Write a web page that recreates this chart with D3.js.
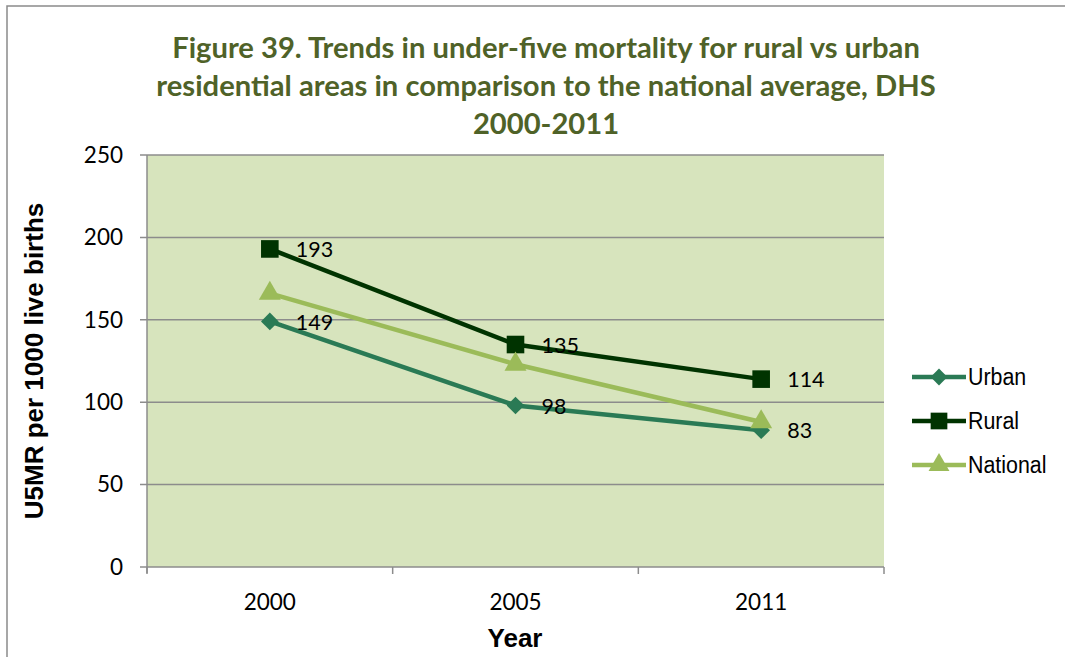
<!DOCTYPE html>
<html><head><meta charset="utf-8">
<script src="https://cdn.jsdelivr.net/npm/d3@7"></script>
<style>body{margin:0;background:#fff}svg{display:block}</style>
</head><body>
<script>
const years = ["2000", "2005", "2011"];
const urban = [149, 98, 83];
const rural = [193, 135, 114];
const national = [166, 123, 88];
const yTicks = [0, 50, 100, 150, 200, 250];
const titleLines = ["Figure 39. Trends in under-five mortality for rural vs urban",
  "residential areas in comparison to the national average, DHS", "2000-2011"];

const W = 1065, H = 657;
const svg = d3.select("body").append("svg").attr("width", W).attr("height", H);
svg.append("rect").attr("x", 7).attr("y", 6).attr("width", 1070).attr("height", 700)
  .attr("fill", "#fff").attr("stroke", "#8a8a8a").attr("stroke-width", 1.5);

const plot = {l: 147, r: 884, t: 155, b: 567};
const x = d3.scaleBand().domain(years).range([plot.l, plot.r]);
const y = d3.scaleLinear().domain([0, 250]).range([plot.b, plot.t]);

svg.append("rect").attr("x", plot.l).attr("y", plot.t).attr("width", plot.r - plot.l)
  .attr("height", plot.b - plot.t).attr("fill", "#d7e4bd");

svg.append("g").selectAll("line").data(yTicks).join("line")
  .attr("x1", plot.l - 7).attr("x2", plot.r).attr("y1", d => y(d)).attr("y2", d => y(d))
  .attr("stroke", "#8c8c8c").attr("stroke-width", 1.5);
svg.append("line").attr("x1", plot.l).attr("x2", plot.l).attr("y1", plot.t).attr("y2", plot.b + 6)
  .attr("stroke", "#8c8c8c").attr("stroke-width", 1.5);
const bounds = years.map(d => x(d)).concat([plot.r]);
svg.append("g").selectAll("line").data(bounds).join("line")
  .attr("x1", d => d).attr("x2", d => d).attr("y1", plot.b).attr("y2", plot.b + 7)
  .attr("stroke", "#8c8c8c").attr("stroke-width", 1.5);

const tickFont = "Lato, 'Open Sans', sans-serif";
svg.append("g").selectAll("text").data(yTicks).join("text")
  .attr("x", 123).attr("y", d => y(d)).attr("dy", "0.35em").attr("text-anchor", "end")
  .attr("font-family", tickFont).attr("font-size", 22.5).attr("fill", "#000").text(d => d);
svg.append("g").selectAll("text").data(years).join("text")
  .attr("x", d => x(d) + x.bandwidth() / 2).attr("y", 610).attr("text-anchor", "middle")
  .attr("font-family", tickFont).attr("font-size", 22.5).attr("fill", "#000").text(d => d);

const arial = "'Liberation Sans', Arial, sans-serif";
svg.append("text").attr("transform", "translate(43,361) rotate(-90)").attr("text-anchor", "middle")
  .attr("font-family", arial).attr("font-weight", "bold")
  .attr("font-size", 26).text("U5MR per 1000 live births");
svg.append("text").attr("x", 515).attr("y", 647).attr("text-anchor", "middle")
  .attr("font-family", arial).attr("font-weight", "bold")
  .attr("font-size", 26).text("Year");

const tt = svg.append("g").selectAll("text").data(titleLines).join("text")
  .attr("x", 546).attr("y", (d, i) => 58 + i * 38).attr("text-anchor", "middle")
  .attr("font-family", "Lato, 'Open Sans', sans-serif").attr("font-weight", "bold")
  .attr("font-size", 26).attr("fill", "#4f6228").text(d => d);
const w0 = tt.nodes()[0].getComputedTextLength();
tt.attr("font-size", 26 * 748 / w0);

const diamond = {draw(ctx, size) { const r = Math.sqrt(size) / 2 * 1.25;
  ctx.moveTo(0, -r); ctx.lineTo(r, 0); ctx.lineTo(0, r); ctx.lineTo(-r, 0); ctx.closePath(); }};
const series = [
  {name: "Urban", vals: urban, color: "#2a7a55", shape: diamond, size: 200, showLabels: true},
  {name: "Rural", vals: rural, color: "#003300", shape: d3.symbolSquare, size: 310, showLabels: true},
  {name: "National", vals: national, color: "#9bbb59", shape: d3.symbolTriangle, size: 210, showLabels: false}
];
const cx = d => x(d) + x.bandwidth() / 2;
const line = d3.line().x(d => cx(d.year)).y(d => y(d.v));

series.forEach(s => {
  const pts = years.map((yr, i) => ({year: yr, v: s.vals[i]}));
  svg.append("path").datum(pts).attr("d", line).attr("fill", "none")
    .attr("stroke", s.color).attr("stroke-width", 4.5).attr("stroke-linejoin", "round");
  svg.append("g").selectAll("path").data(pts).join("path")
    .attr("transform", d => `translate(${cx(d.year)},${y(d.v)})`)
    .attr("d", d3.symbol().type(s.shape).size(s.size)).attr("fill", s.color);
});
series.filter(s => s.showLabels).forEach(s => {
  const pts = years.map((yr, i) => ({year: yr, v: s.vals[i]}));
  svg.append("g").selectAll("text").data(pts).join("text")
    .attr("x", d => cx(d.year) + 26).attr("y", d => y(d.v)).attr("dy", "0.38em")
    .attr("font-family", tickFont).attr("font-size", 21.5).attr("fill", "#000").text(d => d.v);
});

const lg = svg.append("g");
series.forEach((s, i) => {
  const ly = 377 + i * 44;
  lg.append("line").attr("x1", 912).attr("x2", 966).attr("y1", ly).attr("y2", ly)
    .attr("stroke", s.color).attr("stroke-width", 4.5);
  lg.append("path").attr("transform", `translate(939,${ly})`)
    .attr("d", d3.symbol().type(s.shape).size(s.size * 0.9)).attr("fill", s.color);
  const t = lg.append("text").attr("x", 968).attr("y", ly).attr("dy", "0.36em")
    .attr("font-family", arial).attr("font-size", 23)
    .attr("fill", "#000").text(s.name);
  const wl = t.node().getComputedTextLength();
  t.attr("textLength", wl * 0.93).attr("lengthAdjust", "spacingAndGlyphs");
});
</script>
</body></html>
